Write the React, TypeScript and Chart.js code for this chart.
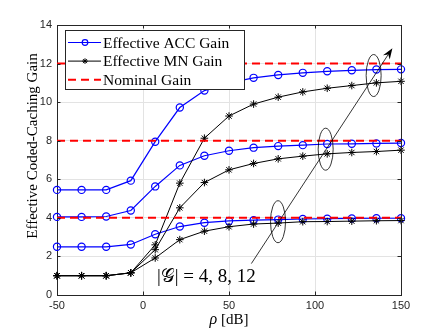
import React, { useEffect, useRef } from 'react';
import { Chart, registerables } from 'chart.js';

Chart.register(...registerables);

// ---- data ----
const rho = [-50, -35.7, -21.4, -7.1, 7.1, 21.4, 35.7, 50, 64.3, 78.6, 92.9, 107.1, 121.4, 135.7, 150];
const accG4 = [2.5, 2.5, 2.5, 2.62, 3.15, 3.55, 3.75, 3.84, 3.88, 3.91, 3.94, 3.96, 3.97, 3.98, 3.98];
const accG8 = [4.05, 4.05, 4.07, 4.38, 5.63, 6.72, 7.22, 7.48, 7.64, 7.72, 7.77, 7.83, 7.84, 7.86, 7.88];
const accG12 = [5.45, 5.45, 5.45, 5.93, 7.95, 9.72, 10.6, 11.0, 11.26, 11.41, 11.52, 11.6, 11.65, 11.69, 11.7];
const mnG4 = [1, 1, 1, 1.15, 1.92, 2.87, 3.31, 3.54, 3.68, 3.73, 3.8, 3.81, 3.83, 3.85, 3.86];
const mnG8 = [1, 1, 1, 1.15, 2.35, 4.52, 5.83, 6.49, 6.82, 7.06, 7.2, 7.32, 7.39, 7.44, 7.51];
const mnG12 = [1, 1, 1, 1.15, 2.6, 5.8, 8.13, 9.28, 9.9, 10.26, 10.53, 10.72, 10.86, 11.0, 11.08];
const nominalGains = [4, 8, 12];
const xTicks = [-50, 0, 50, 100, 150];
const yTicks = [0, 2, 4, 6, 8, 10, 12, 14];
const seriesLabels = ['Effective ACC Gain', 'Effective MN Gain', 'Nominal Gain'];
const yTitle = 'Effective Coded-Caching Gain';
const xTitleSymbol = 'ρ';
const xTitleUnit = '[dB]';
// annotation anchors (data units)
const ellipseCenters = [
  { x: 78.5, y: 3.8 },
  { x: 106.2, y: 7.56 },
  { x: 134.1, y: 11.38 },
];
const arrowFrom = { x: 63, y: 1.63 };
const arrowTo = { x: 145, y: 12.8 };
const groupLabel = { x: 8.1, y: 0.69, text: '|𝒢| = 4, 8, 12' };

const AXIS = '#262626';
const SERIF = "'Liberation Serif', 'DejaVu Serif', serif";
const SANS = "'Liberation Sans', Arial, sans-serif";

function drawMarker(ctx: CanvasRenderingContext2D, style: string, cx: number, cy: number, r: number) {
  ctx.beginPath();
  if (style === 'circle') {
    ctx.arc(cx, cy, r, 0, Math.PI * 2);
  } else {
    for (let k = 0; k < 4; k++) {
      const ang = (k * Math.PI) / 4;
      ctx.moveTo(cx - r * Math.cos(ang), cy - r * Math.sin(ang));
      ctx.lineTo(cx + r * Math.cos(ang), cy + r * Math.sin(ang));
    }
  }
  ctx.stroke();
}

const decorPlugin = {
  id: 'decor',
  afterDatasetsDraw(chart: any) {
    const { ctx, chartArea: a, scales } = chart;
    const x = scales.x;
    const y = scales.y;
    ctx.save();
    // ellipses
    ctx.strokeStyle = '#000';
    ctx.lineWidth = 0.8;
    for (const e of ellipseCenters) {
      ctx.beginPath();
      ctx.ellipse(x.getPixelForValue(e.x), y.getPixelForValue(e.y), 7.5, 21, 0, 0, Math.PI * 2);
      ctx.stroke();
    }
    // arrow
    const x1 = x.getPixelForValue(arrowFrom.x);
    const y1 = y.getPixelForValue(arrowFrom.y);
    const x2 = x.getPixelForValue(arrowTo.x);
    const y2 = y.getPixelForValue(arrowTo.y);
    const ang = Math.atan2(y2 - y1, x2 - x1);
    const headLen = 11;
    const bx = x2 - headLen * Math.cos(ang);
    const by = y2 - headLen * Math.sin(ang);
    ctx.beginPath();
    ctx.moveTo(x1, y1);
    ctx.lineTo(bx + 3 * Math.cos(ang), by + 3 * Math.sin(ang));
    ctx.stroke();
    ctx.beginPath();
    ctx.moveTo(x2, y2);
    ctx.lineTo(bx + 4 * Math.sin(ang), by - 4 * Math.cos(ang));
    ctx.lineTo(bx + 3.5 * Math.cos(ang), by + 3.5 * Math.sin(ang));
    ctx.lineTo(bx - 4 * Math.sin(ang), by + 4 * Math.cos(ang));
    ctx.closePath();
    ctx.fillStyle = '#000';
    ctx.fill();
    // group label
    ctx.font = `19px ${SERIF}`;
    ctx.textBaseline = 'alphabetic';
    ctx.textAlign = 'left';
    ctx.fillText(groupLabel.text, x.getPixelForValue(groupLabel.x), y.getPixelForValue(groupLabel.y));

    // legend
    const lx = Math.round(a.left) + 8;
    const ly = Math.round(a.top) + 5;
    const lw = 179;
    const lh = 59;
    ctx.fillStyle = '#fff';
    ctx.fillRect(lx, ly, lw, lh);
    ctx.strokeStyle = AXIS;
    ctx.lineWidth = 1;
    ctx.strokeRect(lx + 0.5, ly + 0.5, lw, lh);
    const entries = chart.data.datasets.filter((d: any) => d.label);
    entries.forEach((d: any, i: number) => {
      const ry = ly + 12.5 + i * 18.6;
      ctx.save();
      ctx.strokeStyle = d.borderColor;
      ctx.lineWidth = d.borderWidth;
      ctx.setLineDash(d.borderDash || []);
      ctx.beginPath();
      ctx.moveTo(lx + 3, ry);
      ctx.lineTo(lx + 36, ry);
      ctx.stroke();
      ctx.setLineDash([]);
      if (d.pointRadius > 0) {
        ctx.lineWidth = d.pointBorderWidth;
        drawMarker(ctx, d.pointStyle, lx + 20, ry, 2.8);
      }
      ctx.restore();
      ctx.fillStyle = '#000';
      ctx.font = `15.5px ${SERIF}`;
      ctx.textBaseline = 'middle';
      ctx.textAlign = 'left';
      ctx.fillText(d.label, lx + 38, ry + 1);
    });
    ctx.restore();
  },
  afterDraw(chart: any) {
    const { ctx, chartArea: a, scales } = chart;
    const x = scales.x;
    const y = scales.y;
    ctx.save();
    ctx.strokeStyle = AXIS;
    ctx.lineWidth = 1;
    ctx.beginPath();
    ctx.moveTo(Math.round(a.left) + 0.5, Math.round(a.top) + 0.5);
    ctx.lineTo(Math.round(a.right) + 0.5, Math.round(a.top) + 0.5);
    ctx.lineTo(Math.round(a.right) + 0.5, Math.round(a.bottom) + 0.5);
    ctx.stroke();
    // inward ticks
    ctx.beginPath();
    for (const t of xTicks) {
      const px = Math.round(x.getPixelForValue(t)) + 0.5;
      ctx.moveTo(px, a.bottom);
      ctx.lineTo(px, a.bottom - 3.5);
      ctx.moveTo(px, a.top);
      ctx.lineTo(px, a.top + 3.5);
    }
    for (const t of yTicks) {
      const py = Math.round(y.getPixelForValue(t)) + 0.5;
      ctx.moveTo(a.left, py);
      ctx.lineTo(a.left + 3.5, py);
      ctx.moveTo(a.right, py);
      ctx.lineTo(a.right - 3.5, py);
    }
    ctx.stroke();
    // axis titles
    ctx.fillStyle = '#000';
    ctx.font = `15px ${SERIF}`;
    ctx.textBaseline = 'middle';
    ctx.textAlign = 'center';
    ctx.save();
    ctx.translate(33, 146);
    ctx.rotate(-Math.PI / 2);
    ctx.fillText(yTitle, 0, 0);
    ctx.restore();
    // x title: italic rho + unit
    const cx = (a.left + a.right) / 2;
    ctx.font = `italic 16px ${SERIF}`;
    const w1 = ctx.measureText(xTitleSymbol + ' ').width;
    ctx.font = `15px ${SERIF}`;
    const w2 = ctx.measureText(xTitleUnit).width;
    const start = cx - (w1 + w2) / 2;
    ctx.textAlign = 'left';
    ctx.font = `italic 16px ${SERIF}`;
    ctx.fillText(xTitleSymbol, start, 320);
    ctx.font = `15px ${SERIF}`;
    ctx.fillText(xTitleUnit, start + w1, 320);
    ctx.restore();
  },
};

export default function App() {
  const ref = useRef<HTMLCanvasElement | null>(null);
  useEffect(() => {
    document.body.style.margin = '0';
    const canvas = ref.current!;
    const toPts = (v: number[]) => rho.map((xv, j) => ({ x: xv, y: v[j] }));
    const acc = [accG4, accG8, accG12].map((v, i) => ({
      label: i === 0 ? seriesLabels[0] : '',
      data: toPts(v),
      borderColor: '#0000ff',
      backgroundColor: 'rgba(0,0,0,0)',
      pointStyle: 'circle',
      pointRadius: 3.6,
      pointBorderWidth: 1.2,
      pointBackgroundColor: 'rgba(0,0,0,0)',
      borderWidth: 1.2,
      clip: false as any,
      order: 2,
    }));
    const mn = [mnG4, mnG8, mnG12].map((v, i) => ({
      label: i === 0 ? seriesLabels[1] : '',
      data: toPts(v),
      borderColor: '#000000',
      backgroundColor: 'rgba(0,0,0,0)',
      pointStyle: 'star',
      pointRadius: 3.8,
      pointBorderWidth: 1,
      borderWidth: 1,
      clip: false as any,
      order: 1,
    }));
    const nom = nominalGains.map((g, i) => ({
      label: i === 0 ? seriesLabels[2] : '',
      data: [
        { x: xTicks[0], y: g },
        { x: xTicks[xTicks.length - 1], y: g },
      ],
      borderColor: '#ff0000',
      backgroundColor: 'rgba(0,0,0,0)',
      borderDash: [8, 5],
      borderWidth: 2,
      pointRadius: 0,
      order: 0,
    }));
    const chart = new Chart(canvas, {
      type: 'line',
      data: { datasets: [...acc, ...mn, ...nom] as any },
      options: {
        animation: false,
        responsive: false,
        layout: { padding: { left: 0, top: 25, right: 42, bottom: 0 } },
        plugins: { legend: { display: false }, tooltip: { enabled: false } },
        scales: {
          x: {
            type: 'linear',
            min: xTicks[0],
            max: xTicks[xTicks.length - 1],
            afterBuildTicks: (s: any) => {
              s.ticks = xTicks.map((v) => ({ value: v }));
            },
            afterFit: (s: any) => {
              s.height = 36;
            },
            ticks: { color: AXIS, font: { family: SANS, size: 11 }, padding: 4, maxRotation: 0 },
            grid: { color: '#e3e3e3', drawTicks: false },
            border: { color: AXIS, width: 1 },
          },
          y: {
            type: 'linear',
            min: yTicks[0],
            max: yTicks[yTicks.length - 1],
            afterBuildTicks: (s: any) => {
              s.ticks = yTicks.map((v) => ({ value: v }));
            },
            afterFit: (s: any) => {
              s.width = 57;
            },
            ticks: { color: AXIS, font: { family: SANS, size: 11 }, padding: 5 },
            grid: { color: '#e3e3e3', drawTicks: false },
            border: { color: AXIS, width: 1 },
          },
        },
      },
      plugins: [decorPlugin],
    });
    return () => chart.destroy();
  }, []);
  return <canvas ref={ref} width={443} height={331} style={{ display: 'block' }} />;
}
